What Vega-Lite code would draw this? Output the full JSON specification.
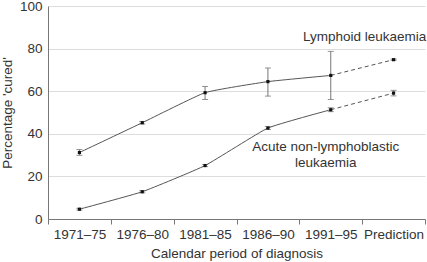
{
  "$schema": "https://vega.github.io/schema/vega-lite/v6.json",
  "width": 377,
  "height": 213,
  "autosize": "none",
  "padding": {"left": 48, "top": 6, "right": 2, "bottom": 43},
  "background": "white",
  "config": {
    "font": "Liberation Sans",
    "view": {"stroke": null},
    "axis": {"labelFont": "Liberation Sans", "titleFont": "Liberation Sans", "labelColor": "#333", "titleColor": "#333", "titleFontWeight": "normal", "labelFontSize": 13.5, "titleFontSize": 13.5, "domainColor": "#777", "tickColor": "#777"}
  },
  "data": {"values": [
    {"series": "LL", "period": "1971–75", "value": 31.2, "lo": 29.9, "hi": 32.6},
    {"series": "LL", "period": "1976–80", "value": 45.2, "lo": 44.6, "hi": 45.8},
    {"series": "LL", "period": "1981–85", "value": 59.3, "lo": 56.1, "hi": 62.2},
    {"series": "LL", "period": "1986–90", "value": 64.5, "lo": 57.7, "hi": 70.9},
    {"series": "LL", "period": "1991–95", "value": 67.4, "lo": 56.1, "hi": 78.7},
    {"series": "LL", "period": "Prediction", "value": 74.8, "lo": 74.5, "hi": 75.1},
    {"series": "ANLL", "period": "1971–75", "value": 4.6, "lo": 4.2, "hi": 5.0},
    {"series": "ANLL", "period": "1976–80", "value": 12.8, "lo": 12.3, "hi": 13.3},
    {"series": "ANLL", "period": "1981–85", "value": 25.1, "lo": 24.6, "hi": 25.6},
    {"series": "ANLL", "period": "1986–90", "value": 42.7, "lo": 42.0, "hi": 43.4},
    {"series": "ANLL", "period": "1991–95", "value": 51.3, "lo": 50.4, "hi": 52.2},
    {"series": "ANLL", "period": "Prediction", "value": 59.1, "lo": 57.8, "hi": 60.4}
  ]},
  "encoding": {
    "x": {"field": "period", "type": "nominal", "bandPosition": 0.5,
      "scale": {"type": "band", "paddingInner": 0, "paddingOuter": 0, "domain": ["1971–75", "1976–80", "1981–85", "1986–90", "1991–95", "Prediction"]},
      "axis": {"title": "Calendar period of diagnosis", "labelAngle": 0, "tickBand": "extent", "tickSize": 5, "labelPadding": 3, "titlePadding": 6, "grid": false}}
  },
  "layer": [
    {
      "transform": [{"filter": "datum.period != 'Prediction'"}],
      "mark": {"type": "line", "interpolate": "cardinal", "tension": 0.6, "color": "#555", "strokeWidth": 1},
      "encoding": {
        "y": {"field": "value", "type": "quantitative", "scale": {"domain": [0, 100]}, "title": "Percentage 'cured'",
          "axis": {"values": [0, 20, 40, 60, 80, 100], "gridColor": "#ddd", "ticks": false, "labelPadding": 6, "titlePadding": 5, "domain": true}},
        "detail": {"field": "series"}
      }
    },
    {
      "transform": [{"filter": "datum.period == '1991–95' || datum.period == 'Prediction'"}],
      "mark": {"type": "line", "color": "#555", "strokeWidth": 1, "strokeDash": [4, 3]},
      "encoding": {
        "y": {"field": "value", "type": "quantitative", "title": "Percentage 'cured'"},
        "detail": {"field": "series"}
      }
    },
    {
      "mark": {"type": "errorbar", "ticks": {"size": 6, "color": "#666"}, "rule": {"color": "#777", "strokeWidth": 1}},
      "encoding": {
        "y": {"field": "lo", "type": "quantitative", "title": "Percentage 'cured'"},
        "y2": {"field": "hi"}
      }
    },
    {
      "mark": {"type": "point", "shape": "square", "filled": true, "size": 10, "color": "#111", "opacity": 1},
      "encoding": {
        "y": {"field": "value", "type": "quantitative", "title": "Percentage 'cured'"}
      }
    },
    {
      "data": {"values": [{"period": "Prediction", "y": 85.5, "label": "Lymphoid leukaemia"}]},
      "mark": {"type": "text", "fontSize": 13.5, "color": "#333", "align": "center", "dx": -29},
      "encoding": {
        "x": {"field": "period", "type": "nominal", "bandPosition": 0.5},
        "y": {"field": "y", "type": "quantitative", "title": "Percentage 'cured'"},
        "text": {"field": "label"}
      }
    },
    {
      "data": {"values": [{"period": "1991–95", "y": 33.6, "label": ["Acute non-lymphoblastic", "leukaemia"]}]},
      "mark": {"type": "text", "fontSize": 13.5, "color": "#333", "align": "center", "baseline": "middle", "dx": -5, "lineHeight": 16},
      "encoding": {
        "x": {"field": "period", "type": "nominal", "bandPosition": 0.5},
        "y": {"field": "y", "type": "quantitative", "title": "Percentage 'cured'"},
        "text": {"field": "label"}
      }
    }
  ]
}
